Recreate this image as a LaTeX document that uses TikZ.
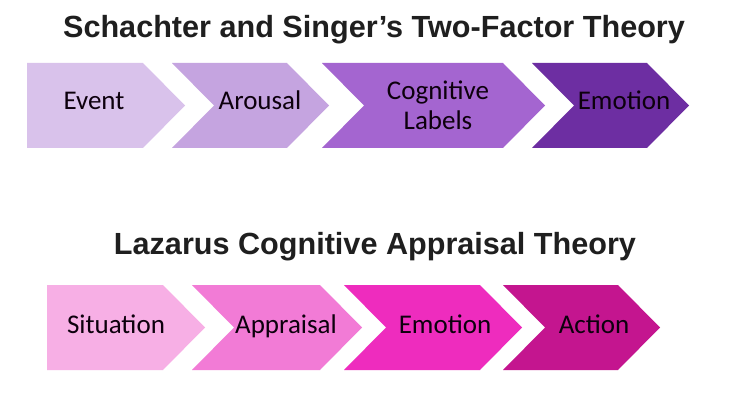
\documentclass[tikz,border=0pt]{standalone}
\usepackage{fontspec}
\setmainfont{Carlito}
\newfontfamily\titlefont{Liberation Sans}
\begin{document}
\begin{tikzpicture}[x=1pt,y=-1pt,
  lbl/.style={font=\fontsize{27}{31}\selectfont, text=black!90!violet, align=center, inner sep=0pt, anchor=base},
  ttl/.style={font=\titlefont\bfseries\fontsize{30.6}{32}\selectfont, text=black!88, anchor=base, inner sep=0pt}]
\definecolor{cA}{HTML}{D9C2EB}
\definecolor{cB}{HTML}{C5A4E0}
\definecolor{cC}{HTML}{A465D0}
\definecolor{cD}{HTML}{6D2EA2}
\definecolor{pA}{HTML}{F7AFE5}
\definecolor{pB}{HTML}{F27BD6}
\definecolor{pC}{HTML}{EE2CBE}
\definecolor{pD}{HTML}{C4158F}
\useasboundingbox[fill=white] (0,0) rectangle (740,404);
% #1 left, #2 top-right, #3 notch depth (0 = flat), #4 top y, #5 bottom y, #6 colour
\newcommand\mychev[6]{%
  \fill[#6] (#1,#4) -- (#2,#4) -- ({#2+42},{(#4+#5)/2}) -- (#2,#5) -- (#1,#5) -- ({#1+#3},{(#4+#5)/2}) -- cycle;}
% top row
\mychev{27}{143}{0}{63}{148}{cA}
\mychev{172}{287}{42}{63}{148}{cB}
\mychev{322}{503}{42}{63}{148}{cC}
\mychev{532}{647}{42}{63}{148}{cD}
% bottom row
\mychev{47}{163}{0}{285}{370}{pA}
\mychev{192}{320}{42}{285}{370}{pB}
\mychev{344}{480}{42}{285}{370}{pC}
\mychev{503}{618}{42}{285}{370}{pD}
\node[ttl] (t1) at (374,38) {Schachter and Singer’s Two-Factor Theory};
\node[ttl] (t2) at (375,254) {Lazarus Cognitive Appraisal Theory};
\node[lbl] (event) at (94,110) {Event};
\node[lbl] (arousal) at (260,110) {Arousal};
\node[lbl] (cog) at (438,130) {Cognitive\\Labels};
\node[lbl] (emo1) at (624,110) {Emotion};
\node[lbl] (sit) at (116,333) {Situation};
\node[lbl] (app) at (286,333) {Appraisal};
\node[lbl] (emo2) at (445,333) {Emotion};
\node[lbl] (act) at (594,333) {Action};
\end{tikzpicture}
\end{document}
